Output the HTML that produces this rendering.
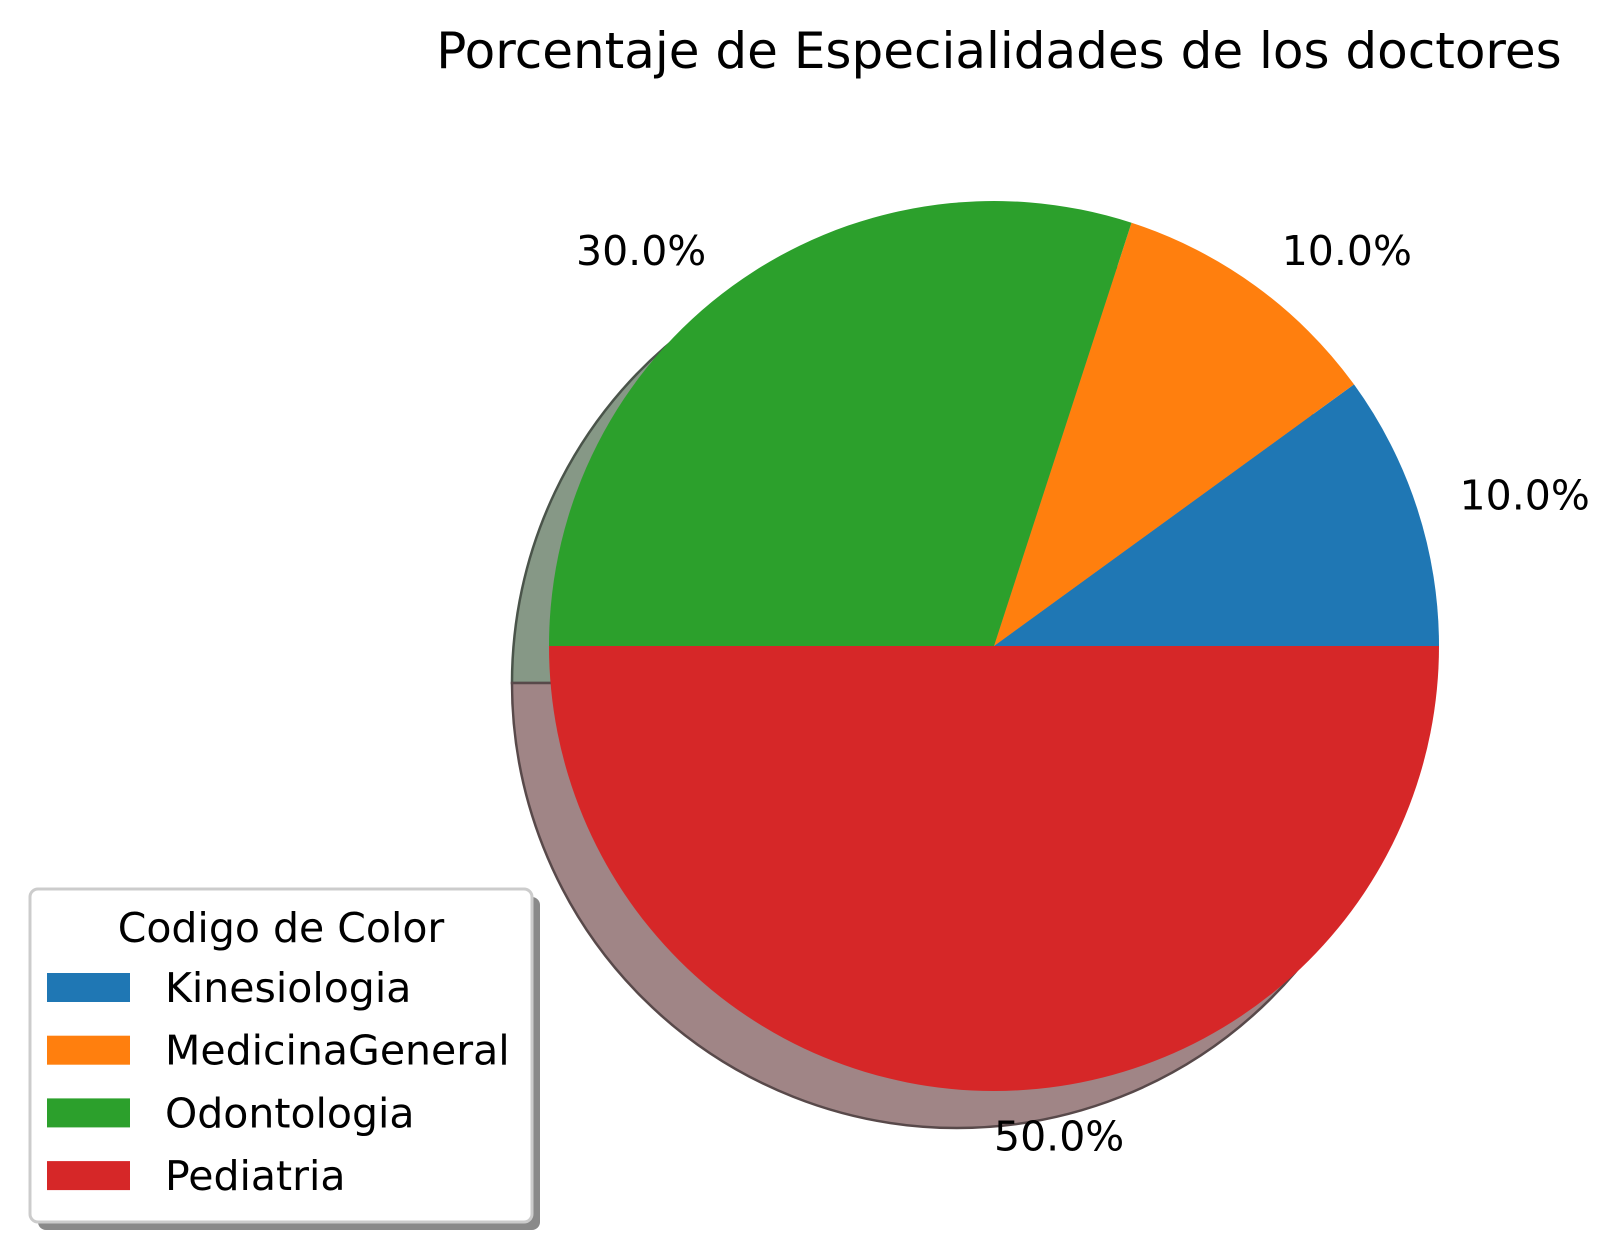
<!DOCTYPE html>
<html><head><meta charset="utf-8"><style>
body{margin:0;background:#fff}
svg text{font-family:"DejaVu Sans","Liberation Sans",sans-serif;fill:#000}
</style></head><body>
<svg id="chart" width="1620" height="1246" viewBox="0 0 1620 1246" xmlns="http://www.w3.org/2000/svg">
<text x="999" y="68" font-size="50" text-anchor="middle">Porcentaje de Especialidades de los doctores</text>
<g id="shadows"></g>
<g id="wedges"></g>
<g id="labels"></g>
<g id="legend">
<rect x="38" y="897" width="502" height="333" rx="8" fill="#8a8a8a"/>
<rect x="30" y="889" width="502" height="333" rx="8" fill="#fff" stroke="#ccc" stroke-width="3"/>
<text x="281" y="942" font-size="41" text-anchor="middle">Codigo de Color</text>
</g>
</svg>
<script>
const categories=["Kinesiologia","MedicinaGeneral","Odontologia","Pediatria"];
const values=[10,10,30,50];
const colors=["#1f77b4","#ff7f0e","#2ca02c","#d62728"];
const cx=994,cy=646,R=445,off=37;
const NS="http://www.w3.org/2000/svg";
const total=values.reduce((a,b)=>a+b,0);
function pt(x0,y0,r,a){return [x0+r*Math.cos(a),y0-r*Math.sin(a)];}
function wedgePath(x0,y0,a0,a1){const p0=pt(x0,y0,R,a0),p1=pt(x0,y0,R,a1);const large=(a1-a0)>Math.PI?1:0;
 return `M${x0},${y0} L${p0[0]},${p0[1]} A${R},${R} 0 ${large} 0 ${p1[0]},${p1[1]} Z`;}
function shade(hex){const n=parseInt(hex.slice(1),16);const c=[n>>16,(n>>8)&255,n&255].map(v=>Math.round(255*0.5+0.3*v*0.5));return `rgb(${c.join(',')})`;}
let a=0;
const sg=document.getElementById('shadows'),wg=document.getElementById('wedges'),lg=document.getElementById('labels'),leg=document.getElementById('legend');
values.forEach((v,i)=>{
 const a0=a,a1=a+v/total*2*Math.PI;a=a1;
 const s=document.createElementNS(NS,'path');
 s.setAttribute('d',wedgePath(cx-off,cy+off,a0,a1));s.setAttribute('fill',shade(colors[i]));s.setAttribute('stroke',shade(colors[i]).replace(/\d+/g,m=>Math.round(m*0.55)));s.setAttribute('stroke-width','2.5');
 
 
 sg.appendChild(s);
 const w=document.createElementNS(NS,'path');
 w.setAttribute('d',wedgePath(cx,cy,a0,a1));w.setAttribute('fill',colors[i]);
 
 
 wg.appendChild(w);
 const m=(a0+a1)/2;const p=pt(cx,cy,R*1.1,m);
 const t=document.createElementNS(NS,'text');
 t.setAttribute('x',p[0]);t.setAttribute('y',p[1]+15);t.setAttribute('font-size','41');
 t.setAttribute('text-anchor',Math.cos(m)>=-1e-9?'start':'end');
 t.textContent=(v/total*100).toFixed(1)+'%';
 
 
 lg.appendChild(t);
 const ry=973+i*62.7;
 const r=document.createElementNS(NS,'rect');
 r.setAttribute('x',47);r.setAttribute('y',ry);r.setAttribute('width',83);r.setAttribute('height',29);r.setAttribute('fill',colors[i]);
 
 
 leg.appendChild(r);
 const lt=document.createElementNS(NS,'text');
 lt.setAttribute('x',165);lt.setAttribute('y',ry+29);lt.setAttribute('font-size','41');lt.textContent=categories[i];
 
 
 leg.appendChild(lt);
});
</script>
</body></html>
